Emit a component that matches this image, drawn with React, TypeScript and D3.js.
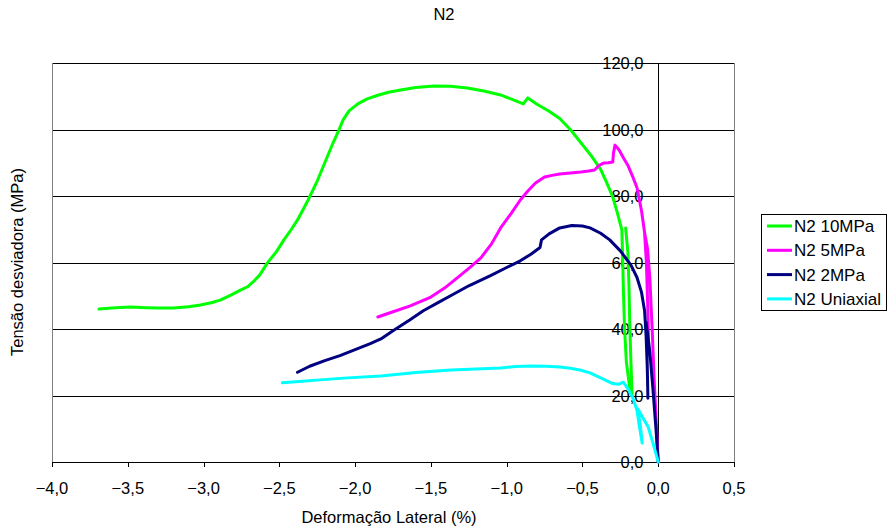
import React from "react";
import * as d3 from "d3";

const title = "N2";
const xTitle = "Deformação Lateral (%)";
const yTitle = "Tensão desviadora (MPa)";
const xTicks = [-4, -3.5, -3, -2.5, -2, -1.5, -1, -0.5, 0, 0.5];
const yTicks = [0, 20, 40, 60, 80, 100, 120];

const seriesNames = ["N2 10MPa", "N2 5MPa", "N2 2MPa", "N2 Uniaxial"];
const seriesColors = ["#00FF00", "#FF00FF", "#000080", "#00FFFF"];

const n2_10MPa: [number, number][] = [
  [-3.69, 46], [-3.58, 46.4], [-3.48, 46.6], [-3.38, 46.4], [-3.3, 46.3], [-3.2, 46.3], [-3.1, 46.7],
  [-3.02, 47.2], [-2.95, 47.9], [-2.89, 48.7], [-2.82, 50.2], [-2.76, 51.6], [-2.71, 52.7], [-2.67, 54.3],
  [-2.63, 56.2], [-2.58, 59.8], [-2.52, 63.2], [-2.47, 66.8], [-2.42, 70], [-2.38, 72.8], [-2.31, 78.8],
  [-2.25, 84.5], [-2.2, 90], [-2.15, 95.5], [-2.11, 99.5], [-2.08, 102.8], [-2.04, 105.6], [-1.98, 107.8],
  [-1.92, 109.2], [-1.85, 110.3], [-1.78, 111.2], [-1.7, 111.9], [-1.6, 112.6], [-1.48, 113.1],
  [-1.37, 113], [-1.26, 112.5], [-1.15, 111.6], [-1.04, 110.4], [-0.96, 109], [-0.89, 107.7],
  [-0.86, 109.5], [-0.8, 107.6], [-0.72, 105.5], [-0.65, 103.3], [-0.58, 100], [-0.51, 96],
  [-0.44, 92], [-0.38, 88], [-0.34, 84], [-0.3, 79.7], [-0.27, 75], [-0.24, 69.8], [-0.235, 62],
  [-0.23, 52], [-0.222, 40], [-0.21, 30], [-0.19, 23], [-0.172, 19.8], [-0.18, 30], [-0.188, 42],
  [-0.193, 53], [-0.2, 63], [-0.215, 70.4]
];

const n2_5MPa: [number, number][] = [
  [-1.85, 43.6], [-1.75, 45.2], [-1.64, 46.9], [-1.57, 48.2], [-1.5, 49.6], [-1.41, 52.3],
  [-1.31, 56], [-1.24, 58.6], [-1.17, 61.4], [-1.1, 65.6], [-1.04, 70.4], [-0.97, 74.8],
  [-0.91, 78.8], [-0.86, 81.5], [-0.81, 83.9], [-0.75, 85.7], [-0.7, 86.2], [-0.65, 86.6],
  [-0.58, 86.9], [-0.51, 87.2], [-0.46, 87.5], [-0.42, 87.8], [-0.39, 89.2], [-0.36, 89.9],
  [-0.33, 90], [-0.3, 90.2], [-0.295, 93], [-0.285, 95.3], [-0.26, 94], [-0.23, 91.5],
  [-0.2, 89.2], [-0.17, 86], [-0.14, 82.5], [-0.11, 75.5], [-0.09, 69], [-0.078, 60],
  [-0.07, 48], [-0.062, 33], [-0.07, 48], [-0.078, 60], [-0.09, 69], [-0.07, 64],
  [-0.055, 55], [-0.04, 40], [-0.027, 25], [-0.013, 12], [0, 0]
];

const n2_2MPa: [number, number][] = [
  [-2.38, 27], [-2.3, 28.8], [-2.2, 30.5], [-2.1, 32], [-2.0, 33.8], [-1.9, 35.6], [-1.83, 37],
  [-1.75, 39.5], [-1.64, 42.7], [-1.55, 45.5], [-1.45, 48], [-1.37, 50], [-1.25, 53], [-1.11, 56],
  [-1.0, 58.5], [-0.91, 60.5], [-0.84, 62.5], [-0.78, 64.5], [-0.77, 66.8], [-0.72, 68.6],
  [-0.65, 70.4], [-0.57, 71.1], [-0.5, 71], [-0.45, 70.4], [-0.38, 68.8], [-0.32, 66.8],
  [-0.25, 63.5], [-0.18, 59.2], [-0.14, 55.5], [-0.11, 51], [-0.09, 45.5], [-0.08, 38],
  [-0.072, 28], [-0.068, 19.2], [-0.072, 28], [-0.075, 35], [-0.08, 42], [-0.055, 33],
  [-0.035, 22], [-0.015, 10], [0, 0]
];

const n2_Uniaxial: [number, number][] = [
  [-2.48, 23.8], [-2.35, 24.3], [-2.23, 24.7], [-2.05, 25.3], [-1.83, 25.9], [-1.6, 26.9],
  [-1.37, 27.7], [-1.2, 28], [-1.04, 28.3], [-0.94, 28.7], [-0.84, 28.9], [-0.74, 28.8],
  [-0.65, 28.6], [-0.58, 28.2], [-0.51, 27.6], [-0.45, 26.8], [-0.38, 25.3], [-0.3, 23.6],
  [-0.26, 23.4], [-0.23, 24], [-0.2, 22], [-0.165, 19], [-0.14, 15.5], [-0.125, 11],
  [-0.106, 5.7], [-0.118, 11], [-0.135, 16], [-0.11, 14], [-0.085, 12], [-0.066, 10.5],
  [-0.04, 6.5], [-0.015, 2.5], [0, 0]
];

const seriesData = [n2_10MPa, n2_5MPa, n2_2MPa, n2_Uniaxial];

const W = 889;
const H = 532;
const left = 52;
const right = 734;
const top = 63;
const bottom = 462;

const fmt = (v: number) => d3.format(".1f")(v).replace(".", ",");

export default function App() {
  const x = d3.scaleLinear().domain([-4, 0.5]).range([left, right]);
  const y = d3.scaleLinear().domain([0, 120]).range([bottom, top]);
  const line = d3
    .line<[number, number]>()
    .x((d) => x(d[0]))
    .y((d) => y(d[1]));
  const font = "'Liberation Sans', Arial, sans-serif";
  const x0 = Math.round(x(0)) + 0.5;
  const fs = 16.5;

  return (
    <svg
      width={W}
      height={H}
      style={{ position: "absolute", left: 0, top: 0, background: "#fff" }}
      fontFamily={font}
    >
      <rect x={0} y={0} width={W} height={H} fill="#fff" />
      <text x={444} y={20} textAnchor="middle" fontSize={fs}>
        {title}
      </text>
      {yTicks.map((t) => (
        <line
          key={"g" + t}
          x1={left}
          x2={right}
          y1={Math.round(y(t)) + 0.5}
          y2={Math.round(y(t)) + 0.5}
          stroke="#000"
          strokeWidth={1}
        />
      ))}
      <line x1={left + 0.5} x2={left + 0.5} y1={top} y2={bottom} stroke="#808080" />
      <line x1={right + 0.5} x2={right + 0.5} y1={top} y2={bottom} stroke="#808080" />
      <line x1={x0} x2={x0} y1={top} y2={bottom} stroke="#000" />
      {yTicks.map((t) => (
        <g key={"yt" + t}>
          <line
            x1={x0 - 5}
            x2={x0}
            y1={Math.round(y(t)) + 0.5}
            y2={Math.round(y(t)) + 0.5}
            stroke="#000"
          />
          <text x={x0 - 15} y={y(t) + 6} textAnchor="end" fontSize={fs}>
            {fmt(t)}
          </text>
        </g>
      ))}
      <line x1={left} x2={right + 1} y1={bottom + 0.5} y2={bottom + 0.5} stroke="#000" />
      {xTicks.map((t) => (
        <g key={"xt" + t}>
          <line
            x1={Math.round(x(t)) + 0.5}
            x2={Math.round(x(t)) + 0.5}
            y1={bottom}
            y2={bottom + 5}
            stroke="#000"
          />
          <text x={x(t)} y={bottom + 32} textAnchor="middle" fontSize={fs}>
            {fmt(t)}
          </text>
        </g>
      ))}
      <text x={389} y={523} textAnchor="middle" fontSize={fs}>
        {xTitle}
      </text>
      <text
        transform={`translate(23,${262}) rotate(-90)`}
        textAnchor="middle"
        fontSize={fs}
      >
        {yTitle}
      </text>
      {seriesData.map((s, i) => (
        <path
          key={"s" + i}
          d={line(s) || ""}
          fill="none"
          stroke={seriesColors[i]}
          strokeWidth={3}
          strokeLinejoin="round"
          strokeLinecap="round"
        />
      ))}
      <rect x={761.5} y={214.5} width={125} height={96} fill="#fff" stroke="#000" />
      {seriesNames.map((n, i) => {
        const ly = 226 + i * 24.3;
        return (
          <g key={"l" + i}>
            <line x1={767} x2={792} y1={ly} y2={ly} stroke={seriesColors[i]} strokeWidth={3} />
            <text x={794} y={ly + 6} fontSize={17}>
              {n}
            </text>
          </g>
        );
      })}
    </svg>
  );
}
